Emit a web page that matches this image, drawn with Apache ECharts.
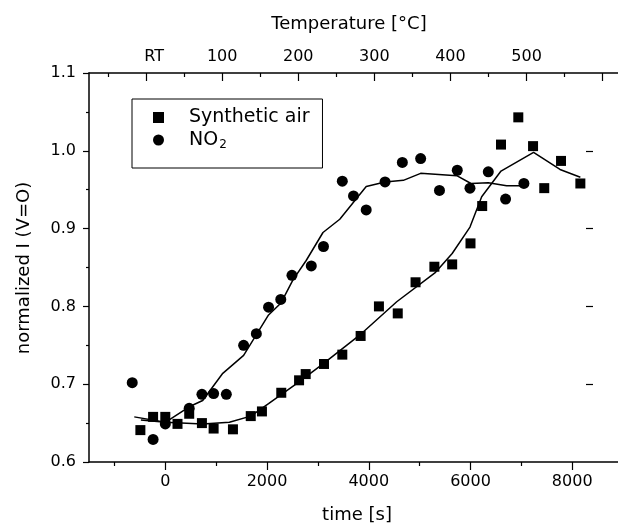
<!DOCTYPE html>
<html>
<head>
<meta charset="utf-8">
<script src="https://cdn.jsdelivr.net/npm/echarts@6/dist/echarts.min.js"></script>
<style>html,body{margin:0;padding:0;background:#fff}#c{width:618px;height:529px}</style>
</head>
<body>
<div id="c"></div>
<script>
// ---- data (time [s], normalized I) ----
const airPoints = [
  [-490,0.641],[-240,0.658],[0,0.658],[240,0.649],[470,0.662],[720,0.650],[950,0.643],
  [1330,0.642],[1680,0.659],[1900,0.665],[2280,0.689],[2630,0.705],[2760,0.713],[3120,0.726],
  [3480,0.738],[3840,0.762],[4200,0.800],[4570,0.791],[4920,0.831],[5290,0.851],[5640,0.854],
  [6000,0.881],[6230,0.929],[6600,1.008],[6940,1.043],[7230,1.006],[7450,0.952],[7780,0.987],[8160,0.958]
];
const no2Points = [
  [-650,0.702],[-240,0.629],[0,0.649],[470,0.669],[720,0.687],[950,0.688],[1200,0.687],
  [1540,0.750],[1790,0.765],[2030,0.799],[2270,0.809],[2490,0.840],[2870,0.852],[3110,0.877],
  [3480,0.961],[3700,0.942],[3950,0.924],[4320,0.960],[4660,0.985],[5020,0.990],[5390,0.949],
  [5740,0.975],[5990,0.952],[6350,0.973],[6690,0.938],[7050,0.958]
];
const airFit = [
  [-610,0.658],[0,0.651],[735,0.649],[1260,0.651],[1680,0.659],[2030,0.675],[2630,0.703],
  [3120,0.727],[3820,0.763],[4550,0.806],[5300,0.843],[5640,0.868],[5990,0.902],[6220,0.941],
  [6600,0.974],[7240,0.998],[7760,0.976],[8160,0.966]
];
const no2Fit = [
  [-480,0.654],[0,0.651],[470,0.671],[735,0.679],[1130,0.714],[1540,0.737],[2030,0.789],
  [2270,0.804],[2510,0.834],[2770,0.859],[3100,0.895],[3430,0.912],[3950,0.954],[4320,0.960],
  [4680,0.962],[5020,0.971],[5730,0.968],[6010,0.958],[6350,0.959],[6710,0.955],[7050,0.955]
];
// ---- ticks ----
const timeMajorTicks = [0,2000,4000,6000,8000];
const timeMinorTicks = [-1000,1000,3000,5000,7000];
const tempMajorTicks = [0,100,200,300,400,500,600];
const tempLabelValues = [0,100,200,300,400,500];
const tempMinorTicks = [-50,50,150,250,350,450,550];
const yMajorTicks = [0.6,0.7,0.8,0.9,1.0,1.1];
const yMinorTicks = [0.65,0.75,0.85,0.95,1.05];
const yRightTicks = [0.7,0.8,0.9,1.0];

const FONT = 'DejaVu Sans';
const black = '#000';
const chart = echarts.init(document.getElementById('c'), null, {renderer:'canvas'});
const gridBox = {left:89, right:0, top:73, bottom:67, outerBoundsMode:'none', containLabel:false};
const lineAx = {show:true, onZero:false, lineStyle:{color:black, width:1.5}};
const noLine = {show:false, onZero:false};
chart.setOption({
  animation:false,
  backgroundColor:'#fff',
  textStyle:{fontFamily:FONT},
  grid:[Object.assign({}, gridBox), Object.assign({}, gridBox)],
  legend:{
    data:['Synthetic air','NO2'],
    orient:'vertical', left:132, top:99,
    padding:[9,13,17,21],
    itemWidth:11, itemHeight:11, itemGap:2,
    borderColor:black, borderWidth:1,
    selectedMode:false,
    formatter: n => n === 'NO2' ? '{g|}{t|NO}{s|2}' : '{g|}{t|' + n + '}',
    textStyle:{fontFamily:FONT, color:black, fontSize:19,
      rich:{
        g:{width:20},
        t:{fontFamily:FONT, fontSize:19, lineHeight:22, color:black},
        s:{fontFamily:FONT, fontSize:12, color:black, verticalAlign:'bottom', lineHeight:22, padding:[10,0,0,1]}
      }}
  },
  xAxis:[
    {gridIndex:0, type:'value', position:'bottom', min:-1500, max:8900,
      axisLine:lineAx, splitLine:{show:false},
      axisTick:{show:true, inside:false, length:8, customValues:timeMajorTicks, lineStyle:{color:black, width:1.2}},
      axisLabel:{show:true, customValues:timeMajorTicks, margin:12, fontSize:16, color:black, fontFamily:FONT,
        formatter: v => String(v)}},
    {gridIndex:0, type:'value', position:'top', min:-75, max:620.2,
      axisLine:lineAx, splitLine:{show:false},
      axisTick:{show:true, inside:true, length:8, customValues:tempMajorTicks, lineStyle:{color:black, width:1.2}},
      axisLabel:{show:true, customValues:tempLabelValues, margin:8, fontSize:16, color:black, fontFamily:FONT,
        formatter: v => v === 0 ? '{rt|RT}' : String(v),
        rich:{rt:{fontSize:16, fontFamily:FONT, color:black, padding:[0,0,0,16]}}}},
    {gridIndex:1, type:'value', position:'bottom', min:-1500, max:8900,
      axisLine:noLine, splitLine:{show:false}, axisLabel:{show:false},
      axisTick:{show:true, inside:false, length:4, customValues:timeMinorTicks, lineStyle:{color:black, width:1.2}}},
    {gridIndex:1, type:'value', position:'top', min:-75, max:620.2,
      axisLine:noLine, splitLine:{show:false}, axisLabel:{show:false},
      axisTick:{show:true, inside:true, length:4, customValues:tempMinorTicks, lineStyle:{color:black, width:1.2}}}
  ],
  yAxis:[
    {gridIndex:0, type:'value', position:'left', min:0.6, max:1.1,
      axisLine:lineAx, splitLine:{show:false},
      axisTick:{show:true, inside:false, length:6, customValues:yMajorTicks, lineStyle:{color:black, width:1.2}},
      axisLabel:{show:true, customValues:yMajorTicks, margin:13, fontSize:16, color:black, fontFamily:FONT,
        formatter: v => v.toFixed(1)}},
    {gridIndex:0, type:'value', position:'right', offset:-25, min:0.6, max:1.1,
      axisLine:noLine, splitLine:{show:false}, axisLabel:{show:false},
      axisTick:{show:true, inside:true, length:7, customValues:yRightTicks, lineStyle:{color:black, width:1.2}}},
    {gridIndex:1, type:'value', position:'left', min:0.6, max:1.1,
      axisLine:noLine, splitLine:{show:false}, axisLabel:{show:false},
      axisTick:{show:true, inside:false, length:3, customValues:yMinorTicks, lineStyle:{color:black, width:1.2}}}
  ],
  series:[
    {name:'airFit', type:'line', xAxisIndex:0, yAxisIndex:0, data:airFit, symbol:'none', silent:true,
      lineStyle:{color:black, width:1.5}, z:2},
    {name:'no2Fit', type:'line', xAxisIndex:0, yAxisIndex:0, data:no2Fit, symbol:'none', silent:true,
      lineStyle:{color:black, width:1.5}, z:2},
    {name:'Synthetic air', type:'scatter', xAxisIndex:0, yAxisIndex:0, data:airPoints,
      symbol:'rect', symbolSize:10, itemStyle:{color:black, opacity:1}, z:3},
    {name:'NO2', type:'scatter', xAxisIndex:0, yAxisIndex:0, data:no2Points,
      symbol:'circle', symbolSize:11, itemStyle:{color:black, opacity:1}, z:3}
  ],
  graphic:[
    {type:'text', style:{text:'Temperature [°C]', x:349, y:24, align:'center', verticalAlign:'middle',
      fontFamily:FONT, fontSize:18, fill:black}},
    {type:'text', style:{text:'time [s]', x:357, y:515, align:'center', verticalAlign:'middle',
      fontFamily:FONT, fontSize:18, fill:black}},
    {type:'text', x:24, y:268, rotation:Math.PI/2, style:{text:'normalized I (V=O)', x:0, y:0, align:'center', verticalAlign:'middle',
      fontFamily:FONT, fontSize:18, fill:black}}
  ]
});
</script>
</body>
</html>
